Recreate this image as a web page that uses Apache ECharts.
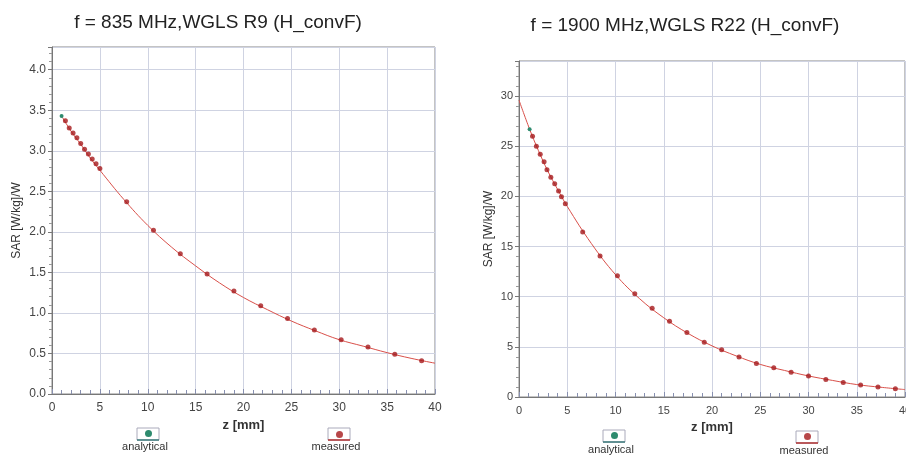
<!DOCTYPE html>
<html><head><meta charset="utf-8">
<script src="https://cdn.jsdelivr.net/npm/echarts@6/dist/echarts.min.js"></script>
<style>html,body{margin:0;padding:0;background:#fff}#c{width:906px;height:461px}</style>
</head><body><div id="c"></div>
<script>
// ---- Left chart: f = 835 MHz ----
const leftMeasZ = [1.4,1.8,2.2,2.6,3.0,3.4,3.8,4.2,4.6,5.0,7.8,10.6,13.4,16.2,19.0,21.8,24.6,27.4,30.2,33.0,35.8,38.6];
const leftMeasSar = [3.37,3.28,3.22,3.16,3.09,3.02,2.96,2.90,2.84,2.78,2.37,2.02,1.73,1.48,1.27,1.09,0.93,0.79,0.67,0.58,0.49,0.41];
const leftAnaZ = [1.0,2,3,4,5,7.5,10,12.5,15,17.5,20,22.5,25,27.5,30,32.5,35,37.5,40];
const leftAnaSar = [3.43,3.24,3.08,2.91,2.76,2.40,2.08,1.81,1.58,1.37,1.19,1.04,0.90,0.78,0.67,0.59,0.51,0.44,0.38];
// ---- Right chart: f = 1900 MHz ----
const rightMeasZ = [1.4,1.8,2.2,2.6,2.9,3.3,3.7,4.1,4.4,4.8,6.6,8.4,10.2,12.0,13.8,15.6,17.4,19.2,21.0,22.8,24.6,26.4,28.2,30.0,31.8,33.6,35.4,37.2,39.0];
const rightMeasSar = [26.0,25.0,24.2,23.45,22.65,21.9,21.25,20.55,19.96,19.26,16.45,14.06,12.1,10.3,8.85,7.56,6.43,5.47,4.71,3.98,3.35,2.92,2.48,2.09,1.75,1.45,1.19,0.99,0.83];
const rightAnaZ = [0,1.1,2,3,4,5,7.5,10,12.5,15,17.5,20,22.5,25,27.5,30,32.5,35,37.5,40];
const rightAnaSar = [29.6,26.7,24.6,22.5,20.7,19.0,15.3,12.2,9.8,7.9,6.35,5.1,4.1,3.25,2.65,2.1,1.65,1.24,0.97,0.74];
const titles = ['f = 835 MHz,WGLS R9 (H_convF)', 'f = 1900 MHz,WGLS R22 (H_convF)'];

const zip = (a,b) => a.map((v,i)=>[v,b[i]]);
const FONT = 'Liberation Sans, Arial, sans-serif';
const gridLine = {show:true, lineStyle:{color:'#cfd3e2', width:1}};

function xAxis(gi){
  return {type:'value', gridIndex:gi, min:0, max:40, interval:5,
    name:'z [mm]', nameLocation:'middle', nameGap:22,
    nameTextStyle:{fontFamily:FONT, fontSize:13, fontWeight:'bold', color:'#333'},
    axisLine:{show:true, onZero:false, lineStyle:{color:'#777'}},
    axisTick:{show:true, inside:true, length:5, lineStyle:{color:'#8890b0'}},
    minorTick:{show:true, splitNumber:5, length:4, lineStyle:{color:'#8890b0'}},
    axisLabel:{fontFamily:FONT, fontSize:gi===0?12:11, color:'#444', margin:8},
    splitLine:gridLine};
}
function yAxis(gi, max, dec, gap){
  return {type:'value', gridIndex:gi, min:0, max:max, interval:gi===0?0.5:5,
    name:'SAR [W/kg]/W', nameLocation:'middle', nameRotate:90, nameGap:gap,
    nameTextStyle:{fontFamily:FONT, fontSize:12, color:'#333'},
    axisLine:{show:true, lineStyle:{color:'#777'}},
    axisTick:{show:true, length:4, lineStyle:{color:'#777'}},
    minorTick:{show:true, splitNumber:5, length:3, lineStyle:{color:'#999'}},
    axisLabel:{fontFamily:FONT, fontSize:gi===0?12:11, color:'#444', margin:6, showMaxLabel:false,
      formatter:v => v.toFixed(dec)},
    splitLine:gridLine};
}
function anaSeries(gi, z, s, markIdx){
  return {name:'analytical', type:'line', xAxisIndex:gi, yAxisIndex:gi, data:zip(z,s),
    smooth:0.4, symbol:'circle', symbolSize:(v,p)=>p.dataIndex===markIdx?4:0, showAllSymbol:true,
    itemStyle:{color:'#2e8b6e'}, lineStyle:{color:'#d9504a', width:1}, z:2, silent:true};
}
function measSeries(gi, z, s){
  return {name:'measured', type:'scatter', xAxisIndex:gi, yAxisIndex:gi, data:zip(z,s),
    symbol:'circle', symbolSize:5, itemStyle:{color:'#a5191c'}, z:3, silent:true};
}
function legend(name, left, top){
  return {data:[{name:name, icon:'circle'}], left:left, top:top, itemWidth:7, itemHeight:7,
    formatter:()=>'', selectedMode:false, padding:0, itemGap:0};
}
function legBox(cx, cy, color, label, ty){
  return [
    {type:'rect', shape:{x:cx-11, y:cy-6, width:22, height:12}, style:{fill:'none', stroke:'#aab', lineWidth:1}},
    {type:'line', shape:{x1:cx-11, y1:cy+6, x2:cx+11, y2:cy+6}, style:{stroke:color, lineWidth:1.5}},
    {type:'text', style:{text:label, x:cx-3, y:ty, textAlign:'center', textVerticalAlign:'middle', fill:'#333', font:'11px '+FONT}}
  ];
}

const chart = echarts.init(document.getElementById('c'));
chart.setOption({
  backgroundColor:'#fff', animation:false,
  title:[
    {text:titles[0], left:213, top:8, textAlign:'center', textStyle:{fontFamily:FONT, fontSize:19, fontWeight:'normal', color:'#222'}},
    {text:titles[1], left:680, top:11, textAlign:'center', textStyle:{fontFamily:FONT, fontSize:19, fontWeight:'normal', color:'#222'}}
  ],
  grid:[
    {left:52, top:47, right:471, bottom:67, show:true, borderColor:'#888', borderWidth:1, outerBoundsMode:'none', containLabel:false},
    {left:519, top:61, right:1, bottom:64, show:true, borderColor:'#888', borderWidth:1, outerBoundsMode:'none', containLabel:false}
  ],
  xAxis:[xAxis(0), xAxis(1)],
  yAxis:[yAxis(0, 4.28, 1, 29), yAxis(1, 33.5, 0, 24)],
  legend:[legend('analytical',145,430), legend('measured',336,431), legend('analytical',611,432), legend('measured',804,433)],
  series:[anaSeries(0,leftAnaZ,leftAnaSar,0), measSeries(0,leftMeasZ,leftMeasSar),
          anaSeries(1,rightAnaZ,rightAnaSar,1), measSeries(1,rightMeasZ,rightMeasSar)],
  graphic:[].concat(legBox(148,434,'#3b7a7a','analytical',447), legBox(339,434,'#b03030','measured',447),
                    legBox(614,436,'#3b7a7a','analytical',450), legBox(807,437,'#b03030','measured',451))
});
</script></body></html>
